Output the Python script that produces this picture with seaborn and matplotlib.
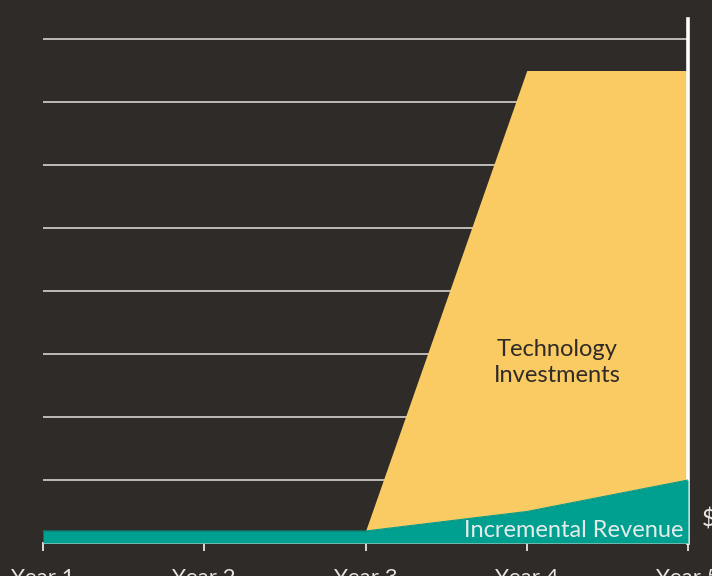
import matplotlib
matplotlib.use("Agg")
import matplotlib.pyplot as plt
import seaborn as sns
import numpy as np
import pandas as pd

years = ["Year 1", "Year 2", "Year 3", "Year 4", "Year 5"]
revenue = [0.19, 0.19, 0.19, 0.5, 1.0]
investments = [0.0, 0.0, 0.0, 7.0, 6.5]

BG = "#2f2b28"
YELLOW = "#f9cb62"
TEAL = "#00a091"
LIGHT = "#e8e4df"

sns.set_theme(style="dark")
plt.rcParams["font.family"] = ["Lato", "DejaVu Sans"]

df = pd.DataFrame({"x": np.arange(len(years)), "revenue": revenue, "investments": investments})
df["total"] = df["revenue"] + df["investments"]

fig = plt.figure(figsize=(7.12, 5.76), dpi=100, facecolor=BG)
ax = fig.add_axes([43 / 712, 33 / 576, (688 - 43) / 712, (543 - 19) / 576])
ax.set_facecolor(BG)

ax.set_ylim(0, (543 - 19) / 63)
ax.set_xlim(0, len(years) - 1)

for y in range(1, 9):
    ax.axhline(y, color="#c9c6c2", lw=1.3, zorder=1)

ax.fill_between(df["x"], df["revenue"], df["total"], color=YELLOW, lw=0, zorder=2)
ax.fill_between(df["x"], 0, df["revenue"], color=TEAL, lw=0, zorder=3)
sns.lineplot(data=df, x="x", y="revenue", ax=ax, color=TEAL, lw=0.8, zorder=3)

for s in ["top", "left"]:
    ax.spines[s].set_visible(False)
ax.spines["right"].set_color("white")
ax.spines["right"].set_linewidth(2.6)
ax.spines["bottom"].set_color(LIGHT)
ax.spines["bottom"].set_linewidth(1.3)

ax.set_xticks(df["x"])
ax.set_xticklabels(years, fontsize=16, color=LIGHT)
ax.tick_params(axis="x", length=6, width=1.3, color=LIGHT, pad=12, bottom=True, direction="out")
ax.set_yticks([])
ax.set_xlabel("")
ax.set_ylabel("")
ax.grid(False)

ax.text(3.19, 2.87, "Technology\nInvestments", ha="center", va="center",
        fontsize=17, color="#2f2b28", linespacing=1.3, zorder=5)
ax.text(3.97, 0.2, "Incremental Revenue", ha="right", va="center",
        fontsize=17, color="#e6ece9", zorder=5)
ax.annotate("$", xy=(4, 0.37), xytext=(10, 0), textcoords="offset points",
            ha="left", va="center", fontsize=17, color=LIGHT,
            annotation_clip=False)

fig.savefig("out.png", dpi=100, facecolor=BG)
